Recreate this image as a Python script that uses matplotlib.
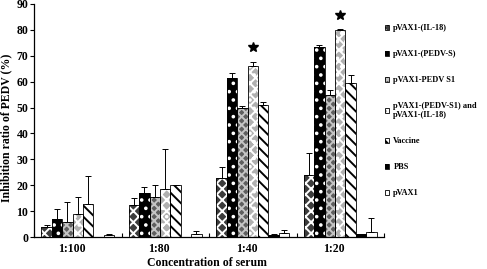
import matplotlib
matplotlib.use("Agg")
import matplotlib.pyplot as plt
import numpy as np
from matplotlib.legend_handler import HandlerTuple

categories = ['1:100', '1:80', '1:40', '1:20']
series_names = ['pVAX1-(IL-18)', 'pVAX1-(PEDV-S)', 'pVAX1-PEDV S1',
                'pVAX1-(PEDV-S1) and\npVAX1-(IL-18)', 'Vaccine', 'PBS', 'pVAX1']

il18 = [3.9, 12.3, 22.8, 24.1]
il18_err = [0.7, 2.6, 4.1, 8.3]
pedv_s = [7.1, 16.9, 61.3, 73.5]
pedv_s_err = [3.6, 2.5, 2.0, 0.7]
pedv_s1 = [5.9, 15.6, 50.0, 54.9]
pedv_s1_err = [7.8, 4.5, 0.6, 1.9]
combo = [9.0, 18.7, 66.0, 80.0]
combo_err = [6.3, 15.4, 1.7, 0.3]
vaccine = [12.9, 19.9, 50.8, 59.3]
vaccine_err = [10.6, 0.3, 1.5, 3.3]
pbs = [0.0, 0.0, 0.8, 1.0]
pbs_err = [0.0, 0.0, 0.2, 0.2]
pvax1 = [0.6, 1.3, 1.7, 2.0]
pvax1_err = [0.4, 0.9, 1.0, 5.5]
significant = [False, False, True, True]  # star above combo group

values = [il18, pedv_s, pedv_s1, combo, vaccine, pbs, pvax1]
errors = [il18_err, pedv_s_err, pedv_s1_err, combo_err, vaccine_err, pbs_err, pvax1_err]

styles = [
    dict(face='#3c3c3c', hatch='xxx', hcol='white'),
    dict(face='black', hatch='..', hcol='white'),
    dict(face='#5e5e5e', hatch='xxxx', hcol='#c4c4c4'),
    dict(face='#b0b0b0', hatch='xxx..', hcol='white'),
    dict(face='white', hatch='\\\\\\', hcol='black'),
    dict(face='black', hatch='', hcol='black'),
    dict(face='white', hatch='', hcol='white'),
]

plt.rcParams['font.family'] = ['Liberation Serif', 'DejaVu Serif']
plt.rcParams['font.weight'] = 'bold'
plt.rcParams['hatch.linewidth'] = 1.4

fig = plt.figure(figsize=(4.87, 2.69), dpi=100)
ax = fig.add_axes([34/487, 32/269, 350/487, 233/269])

x = np.arange(len(categories))
n = len(values)
w = 0.119
handles = []
for k in range(n):
    pos = x - (n * w) / 2 + w * (k + 0.5)
    st = styles[k]
    b1 = ax.bar(pos, values[k], w, color=st['face'], edgecolor=st['hcol'],
                hatch=st['hatch'] if st['hatch'] else None, linewidth=0, zorder=2)
    b2 = ax.bar(pos, values[k], w, fill=False, edgecolor='black', linewidth=0.6, zorder=3)
    ax.errorbar(pos, values[k], yerr=[np.zeros(len(x)), errors[k]], fmt='none',
                ecolor='black', elinewidth=0.7, capsize=2, capthick=0.7, zorder=4)
    handles.append((b1.patches[0], b2.patches[0]))
    if k == 3:
        for i in range(len(x)):
            if significant[i]:
                ax.plot(pos[i], values[k][i] + errors[k][i] + 5.5, marker='*',
                        color='black', ms=7, zorder=5)

ax.set_xlim(-0.5, len(categories) - 0.5)
ax.set_ylim(0, 90)
ax.set_yticks(np.arange(0, 91, 10))
ax.set_xticks(x - 0.07)
ax.set_xticklabels(categories, fontsize=8.5, fontweight='bold')
ax.set_xticks(np.arange(-0.5, len(categories), 1.0), minor=True)
ax.tick_params(axis='x', which='major', length=0, pad=4)
ax.tick_params(axis='x', which='minor', direction='in', length=3, width=0.8)
ax.tick_params(axis='y', direction='out', length=3, width=0.8, pad=1, labelsize=8.5)
for lab in ax.get_yticklabels():
    lab.set_fontweight('bold')
for s in ['top', 'right']:
    ax.spines[s].set_visible(False)
for s in ['left', 'bottom']:
    ax.spines[s].set_linewidth(0.9)

ax.set_ylabel('Inhibition ratio of PEDV (%)', fontsize=8.5, fontweight='bold')
ax.yaxis.set_label_coords(-0.062, 0.47)
ax.set_xlabel('Concentration of serum', fontsize=8.5, fontweight='bold')
ax.xaxis.set_label_coords(0.494, -0.085)

fig.legend(handles, series_names, handler_map={tuple: HandlerTuple(ndivide=1, pad=0)},
           loc='upper left', bbox_to_anchor=(0.783, 0.922), frameon=False,
           fontsize=6, handlelength=0.55, handleheight=0.55, handletextpad=0.5,
           labelspacing=2.15, borderaxespad=0)

fig.savefig('out.png', dpi=100)
